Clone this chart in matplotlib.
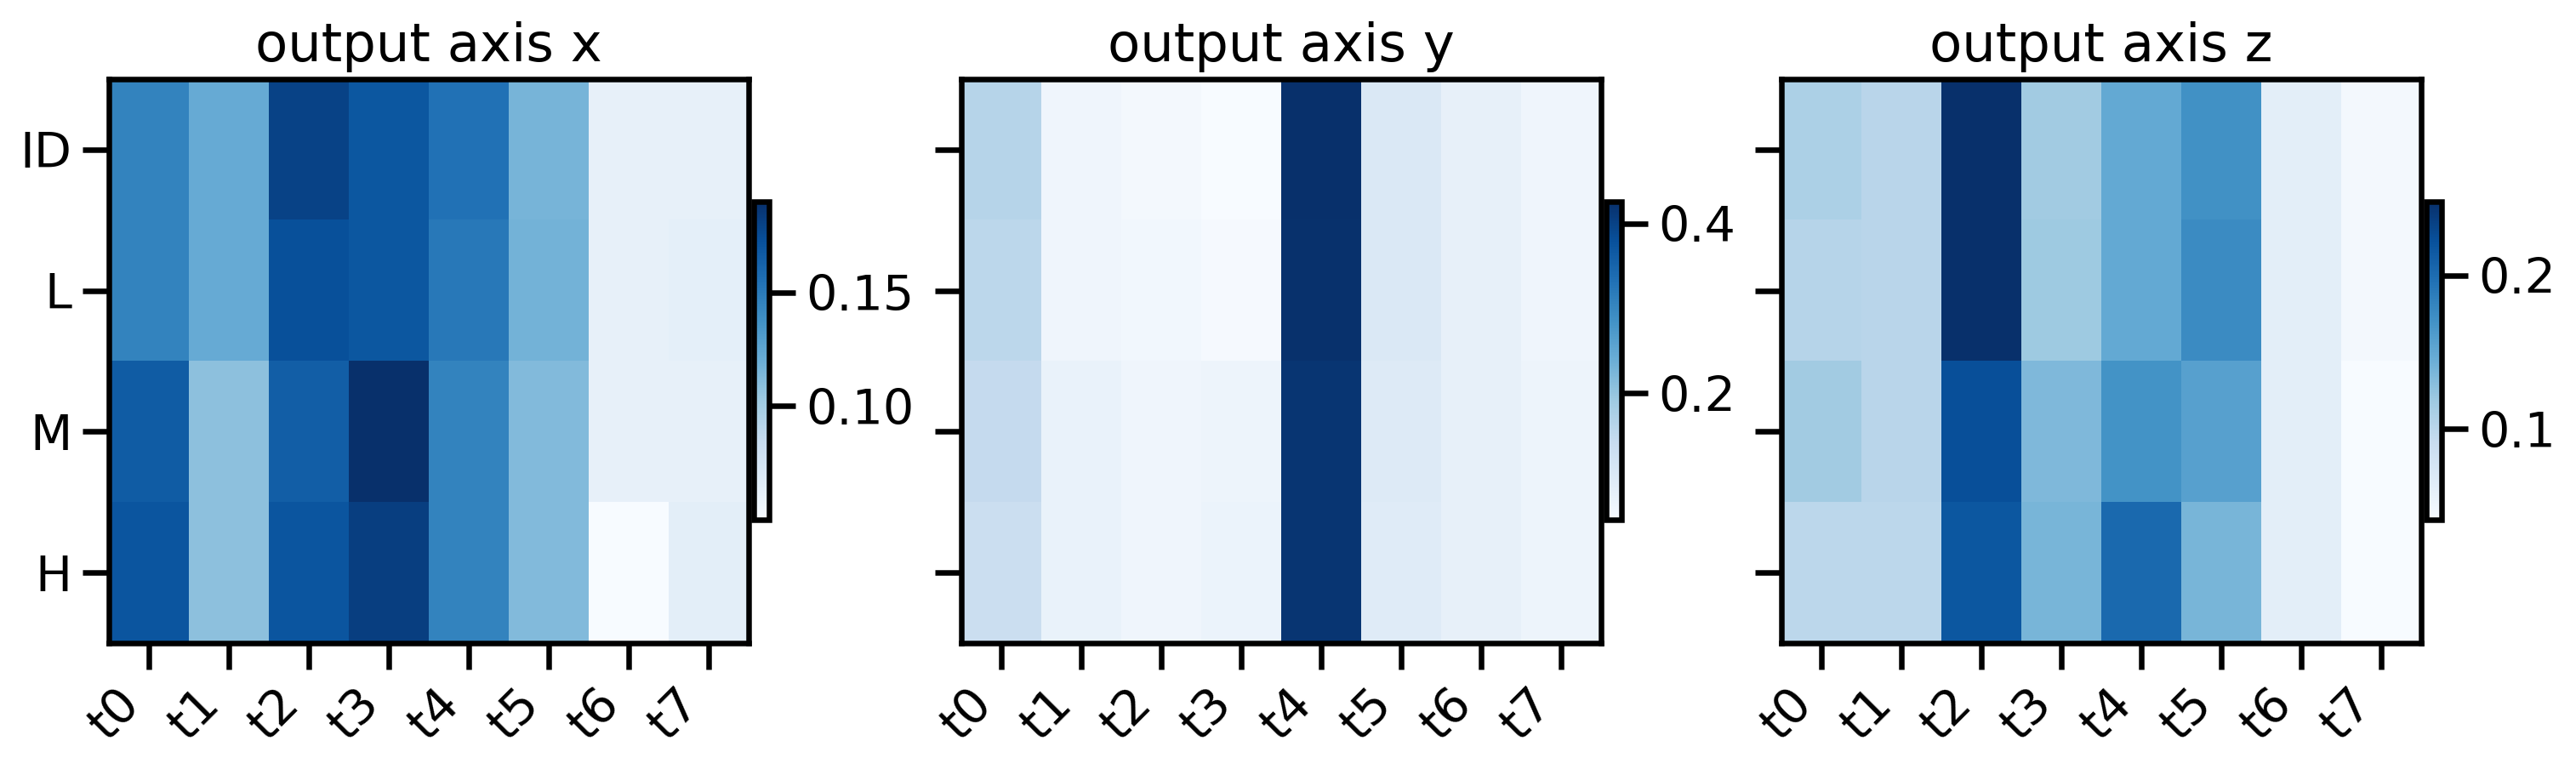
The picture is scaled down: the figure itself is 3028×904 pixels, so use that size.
import matplotlib
matplotlib.use('Agg')
import matplotlib.pyplot as plt
import seaborn as sns
import numpy as np

sns.set_theme(context='talk', style='ticks')
plt.rcParams['font.family'] = ['DejaVu Sans']
for k in ['text.color', 'axes.edgecolor', 'axes.labelcolor', 'xtick.color', 'ytick.color']:
    plt.rcParams[k] = 'black'

rows = ['ID', 'L', 'M', 'H']
cols = ['t0', 't1', 't2', 't3', 't4', 't5', 't6', 't7']
titles = ['output axis x', 'output axis y', 'output axis z']

vals_x = [[0.145, 0.122, 0.180, 0.169, 0.155, 0.116, 0.061, 0.061],
          [0.145, 0.122, 0.173, 0.169, 0.151, 0.117, 0.061, 0.063],
          [0.166, 0.108, 0.165, 0.190, 0.145, 0.112, 0.061, 0.061],
          [0.170, 0.108, 0.170, 0.182, 0.145, 0.112, 0.050, 0.064]]
vals_y = [[0.163, 0.066, 0.059, 0.051, 0.426, 0.104, 0.081, 0.066],
          [0.156, 0.066, 0.062, 0.055, 0.424, 0.104, 0.081, 0.066],
          [0.145, 0.077, 0.066, 0.070, 0.418, 0.100, 0.081, 0.070],
          [0.134, 0.077, 0.066, 0.074, 0.418, 0.096, 0.081, 0.070]]
vals_z = [[0.109, 0.101, 0.248, 0.116, 0.149, 0.171, 0.062, 0.045],
          [0.103, 0.101, 0.248, 0.118, 0.149, 0.176, 0.062, 0.045],
          [0.116, 0.101, 0.223, 0.134, 0.169, 0.157, 0.062, 0.041],
          [0.099, 0.099, 0.217, 0.138, 0.202, 0.138, 0.062, 0.041]]
cbar_ticks = [[0.10, 0.15], [0.2, 0.4], [0.1, 0.2]]

DPI = 250
W, H = 3028, 904
fig = plt.figure(figsize=(W / DPI, H / DPI), dpi=DPI)

ax_left = [128, 1130, 2094]
cb_left = [886, 1888, 2852]
for i, data in enumerate([vals_x, vals_y, vals_z]):
    ax = fig.add_axes([ax_left[i] / W, 148 / H, 752 / W, 663 / H])
    im = ax.imshow(np.array(data), cmap='Blues', aspect='auto')
    ax.set_xticks(range(len(cols)))
    ax.set_xticklabels(cols, rotation=45, ha='right')
    ax.set_yticks(range(len(rows)))
    if i == 0:
        ax.set_yticklabels(rows)
    else:
        ax.tick_params(labelleft=False)
    ax.set_title(titles[i])
    cax = fig.add_axes([cb_left[i] / W, 293 / H, 18 / W, 374 / H])
    cb = fig.colorbar(im, cax=cax, ticks=cbar_ticks[i])
    cb.outline.set_linewidth(plt.rcParams['axes.linewidth'])
    cb.outline.set_edgecolor('black')

fig.savefig('out.png', dpi=DPI)
